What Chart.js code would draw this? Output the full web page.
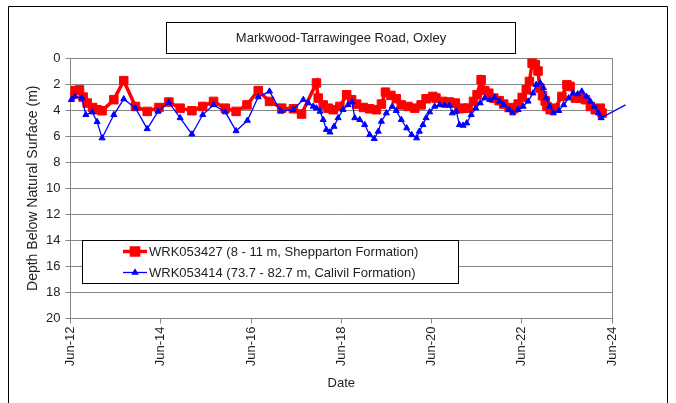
<!DOCTYPE html>
<html lang="en">
  <head>
    <meta charset="UTF-8" />
    <title>Markwood-Tarrawingee Road, Oxley</title>
    <script src="https://cdn.jsdelivr.net/npm/chart.js"></script>
    <style>
      body { margin: 0; background: #fff; }
      #wrap { width: 676px; height: 403px; }
    </style>
  </head>
  <body>
    <div id="wrap"><canvas id="bores"></canvas></div>

    <script>
      // Dates as decimal years (Jun-12 = 2012.5), depth in m below surface
      const shallowYears = [2012.5, 2012.59, 2012.7, 2012.78, 2012.87, 2012.99, 2013.09, 2013.2, 2013.46, 2013.68,
        2013.94, 2014.2, 2014.46, 2014.68, 2014.93, 2015.19, 2015.43, 2015.67, 2015.93, 2016.17,
        2016.41, 2016.66, 2016.91, 2017.18, 2017.44, 2017.62, 2017.95, 2017.99, 2018.1, 2018.21,
        2018.32, 2018.47, 2018.62, 2018.73, 2018.84, 2018.99, 2019.13, 2019.28, 2019.39, 2019.48,
        2019.6, 2019.72, 2019.83, 2019.98, 2020.13, 2020.27, 2020.38, 2020.53, 2020.6, 2020.75,
        2020.9, 2021.03, 2021.11, 2021.2, 2021.31, 2021.43, 2021.51, 2021.6, 2021.68, 2021.77,
        2021.88, 2022.0, 2022.1, 2022.22, 2022.32, 2022.42, 2022.51, 2022.6, 2022.67, 2022.73,
        2022.8, 2022.86, 2022.9, 2022.96, 2023.02, 2023.06, 2023.13, 2023.24, 2023.39, 2023.5,
        2023.57, 2023.69, 2023.8, 2023.91, 2024.02, 2024.13, 2024.24, 2024.28];
      const shallowDepth = [2.9, 2.5, 2.45, 3.0, 3.46, 3.8, 3.97, 4.05, 3.2, 1.74,
        3.72, 4.1, 3.8, 3.38, 3.85, 4.05, 3.72, 3.33, 3.85, 4.1,
        3.6, 2.5, 3.33, 3.85, 3.9, 4.3, 1.92, 3.08, 3.6, 3.85,
        3.97, 3.72, 2.82, 3.2, 3.54, 3.8, 3.9, 3.97, 3.54, 2.62,
        2.87, 3.13, 3.6, 3.72, 3.85, 3.6, 3.13, 2.95, 3.08, 3.33,
        3.38, 3.46, 3.9, 3.85, 3.85, 3.33, 2.82, 1.67, 2.5, 2.7,
        3.08, 3.28, 3.54, 3.8, 3.9, 3.54, 3.03, 2.44, 1.8, 0.4,
        0.5, 1.0, 2.3, 2.9, 3.3, 3.72, 3.97, 3.85, 2.95, 2.05,
        2.18, 3.08, 3.08, 3.2, 3.72, 3.97, 3.85, 4.23];

      const deepYears = [2012.52, 2012.6, 2012.75, 2012.84, 2012.98, 2013.09, 2013.2, 2013.46, 2013.68, 2013.94,
        2014.2, 2014.44, 2014.68, 2014.93, 2015.19, 2015.43, 2015.67, 2015.93, 2016.17, 2016.42,
        2016.66, 2016.91, 2017.16, 2017.43, 2017.66, 2017.77, 2017.88, 2017.95, 2018.03, 2018.1,
        2018.17, 2018.25, 2018.34, 2018.43, 2018.54, 2018.65, 2018.74, 2018.8, 2018.91, 2019.02,
        2019.13, 2019.23, 2019.32, 2019.39, 2019.5, 2019.63, 2019.72, 2019.83, 2019.95, 2020.06,
        2020.17, 2020.23, 2020.31, 2020.38, 2020.46, 2020.57, 2020.68, 2020.79, 2020.9, 2020.96,
        2021.05, 2021.12, 2021.2, 2021.28, 2021.38, 2021.48, 2021.58, 2021.68, 2021.79, 2021.9,
        2022.01, 2022.1, 2022.22, 2022.3, 2022.42, 2022.53, 2022.64, 2022.75, 2022.82, 2022.91,
        2022.98, 2023.04, 2023.12, 2023.2, 2023.32, 2023.43, 2023.54, 2023.64, 2023.74, 2023.83,
        2023.93, 2024.02, 2024.11, 2024.2, 2024.26, 2024.8];
      const deepDepth = [3.2, 2.95, 3.08, 4.36, 4.15, 4.9, 6.15, 4.36, 3.15, 3.85,
        5.44, 4.1, 3.41, 4.6, 5.85, 4.36, 3.6, 4.15, 5.6, 4.8,
        3.0, 2.56, 4.1, 3.97, 3.2, 3.46, 3.72, 3.85, 4.1, 4.74,
        5.5, 5.7, 5.26, 4.6, 3.97, 3.6, 3.38, 4.6, 4.74, 5.13,
        5.9, 6.2, 5.64, 4.87, 4.23, 3.72, 4.05, 4.74, 5.38, 5.9,
        6.15, 5.64, 5.13, 4.6, 4.15, 3.72, 3.6, 3.64, 3.64, 4.23,
        4.1, 5.13, 5.18, 5.0, 4.36, 3.85, 3.46, 3.08, 3.2, 3.03,
        3.33, 3.6, 3.97, 4.23, 3.97, 3.72, 3.33, 2.7, 2.05, 1.92,
        2.3, 3.08, 3.72, 4.23, 4.05, 3.6, 3.08, 2.7, 2.77, 2.56,
        2.95, 3.33, 3.72, 4.23, 4.6, 3.6];

      const xTickYears = [2012.5, 2014.5, 2016.5, 2018.5, 2020.5, 2022.5, 2024.5];
      const xTickLabels = ["Jun-12", "Jun-14", "Jun-16", "Jun-18", "Jun-20", "Jun-22", "Jun-24"];

      const chartTitle = "Markwood-Tarrawingee Road, Oxley";

      const toPoints = (xs, ys) => xs.map((x, i) => ({ x: x, y: ys[i] }));

      const FONT = "'Liberation Sans', Arial, sans-serif";
      const TEXT = "#222";
      const GRID = "#868686";

      // frames, title box, plot border and legend box
      const boxes = {
        id: "boxes",
        beforeDraw(chart) {
          const ctx = chart.ctx;
          ctx.save();
          ctx.fillStyle = "#fff";
          ctx.fillRect(0, 0, chart.width, chart.height);
          ctx.strokeStyle = "#000";
          ctx.lineWidth = 1;
          ctx.beginPath();
          ctx.moveTo(8.5, chart.height + 2);
          ctx.lineTo(8.5, 6.5);
          ctx.lineTo(667.5, 6.5);
          ctx.lineTo(667.5, chart.height + 2);
          ctx.stroke();
          ctx.restore();
        },
        beforeDatasetsDraw(chart) {
          const a = chart.chartArea;
          const ctx = chart.ctx;
          ctx.save();
          ctx.strokeStyle = GRID;
          ctx.lineWidth = 1;
          ctx.beginPath();
          ctx.moveTo(Math.round(a.right) + 0.5, a.top);
          ctx.lineTo(Math.round(a.right) + 0.5, a.bottom);
          ctx.stroke();
          ctx.restore();
        },
        afterDraw(chart) {
          const ctx = chart.ctx;
          ctx.save();
          // title
          ctx.fillStyle = "#fff";
          ctx.fillRect(166.5, 22.5, 349, 31);
          ctx.strokeStyle = "#000";
          ctx.strokeRect(166.5, 22.5, 349, 31);
          ctx.fillStyle = TEXT;
          ctx.font = "13px " + FONT;
          ctx.textAlign = "center";
          ctx.textBaseline = "middle";
          ctx.fillText(chartTitle, 341, 38.5);

          // legend
          ctx.fillStyle = "#fff";
          ctx.fillRect(82.5, 240.5, 376, 43);
          ctx.strokeStyle = "#000";
          ctx.strokeRect(82.5, 240.5, 376, 43);
          ctx.textAlign = "left";
          chart.data.datasets.forEach((ds, i) => {
            const y = 251.5 + i * 21;
            ctx.strokeStyle = ds.borderColor;
            ctx.lineWidth = ds.borderWidth;
            ctx.beginPath();
            ctx.moveTo(123, y);
            ctx.lineTo(147, y);
            ctx.stroke();
            Chart.helpers.drawPoint(ctx, {
              pointStyle: ds.pointStyle,
              radius: ds.legendRadius,
              borderWidth: 1
            }, 135, y);
            ctx.fillStyle = ds.backgroundColor;
            ctx.fill();
            ctx.fillStyle = TEXT;
            ctx.fillText(ds.label, 149, y + 1);
          });
          ctx.restore();
        }
      };

      const ctx = document.getElementById("bores").getContext("2d");
      new Chart(ctx, {
        type: "line",
        data: {
          datasets: [
            {
              label: "WRK053427 (8 - 11 m, Shepparton Formation)",
              data: toPoints(shallowYears, shallowDepth),
              borderColor: "#ff0000",
              backgroundColor: "#ff0000",
              borderWidth: 3.5,
              pointStyle: "rect",
              pointRadius: 6,
              pointBorderWidth: 1,
              legendRadius: 5,
              order: 1
            },
            {
              label: "WRK053414 (73.7 - 82.7 m, Calivil Formation)",
              data: toPoints(deepYears, deepDepth),
              borderColor: "#0000ff",
              backgroundColor: "#0000ff",
              borderWidth: 1.3,
              pointStyle: "triangle",
              pointRadius: (c) => (c.dataIndex === deepYears.length - 1 ? 0 : 3.5),
              pointBorderWidth: 1,
              legendRadius: 3,
              clip: false,
              order: 0
            }
          ]
        },
        options: {
          responsive: true,
          maintainAspectRatio: false,
          animation: false,
          events: [],
          layout: { padding: { left: 21, right: 64, top: 58, bottom: 8 } },
          elements: { line: { tension: 0 } },
          plugins: { legend: { display: false }, title: { display: false }, tooltip: { enabled: false } },
          scales: {
            x: {
              type: "linear",
              min: 2012.5,
              max: 2024.5,
              afterBuildTicks: (scale) => {
                scale.ticks = xTickYears.map((v) => ({ value: v }));
              },
              afterFit: (scale) => { scale.height = 76.5; },
              ticks: {
                autoSkip: false,
                minRotation: 90,
                maxRotation: 90,
                padding: 3,
                color: TEXT,
                font: { family: FONT, size: 13 },
                callback: (v, i) => xTickLabels[i]
              },
              grid: { drawOnChartArea: false, drawTicks: true, tickLength: 5, color: GRID },
              border: { color: GRID },
              title: { display: true, text: "Date", color: TEXT, font: { family: FONT, size: 13 } }
            },
            y: {
              reverse: true,
              min: 0,
              max: 20,
              afterFit: (scale) => { scale.width = 49.5; },
              ticks: { stepSize: 2, padding: 5, color: TEXT, font: { family: FONT, size: 13 } },
              grid: { color: GRID, tickLength: 5 },
              border: { color: GRID },
              title: {
                display: true,
                text: "Depth Below Natural Surface (m)",
                color: TEXT,
                font: { family: FONT, size: 14 }
              }
            }
          }
        },
        plugins: [boxes]
      });
    </script>
  </body>
</html>
